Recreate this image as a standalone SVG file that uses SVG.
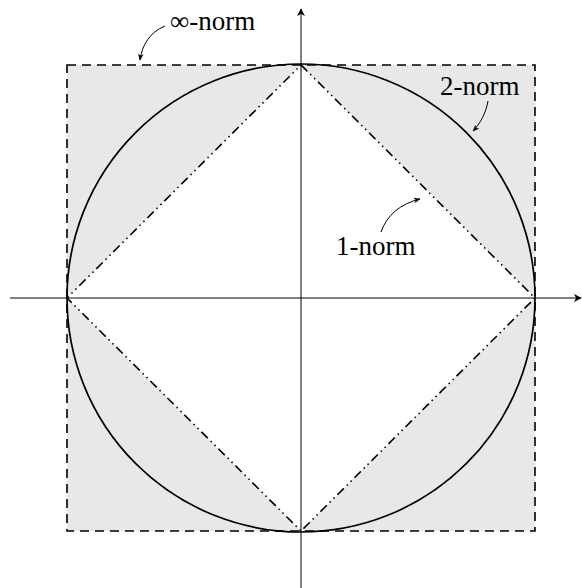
<svg xmlns="http://www.w3.org/2000/svg" width="582" height="588" viewBox="0 0 582 588">
<style>
.lbl{font-family:"Liberation Serif","Times New Roman",serif;font-size:27px;fill:#000}
.ax{stroke:#000;stroke-width:1;fill:none}
.pt{stroke:#000;stroke-width:1;fill:none}
</style>
<defs>
<marker id="ah" viewBox="0 0 10 10" refX="9" refY="5" markerWidth="8" markerHeight="8" markerUnits="userSpaceOnUse" orient="auto">
<path d="M0,0 L10,5 L0,10 L3,5 Z" fill="#000"/>
</marker>
<marker id="sa" viewBox="0 0 10 10" refX="9" refY="5" markerWidth="7" markerHeight="7" markerUnits="userSpaceOnUse" orient="auto">
<path d="M0,1 L10,5 L0,9 L3,5 Z" fill="#000"/>
</marker>
</defs>
<rect width="582" height="588" fill="#fff"/>
<g id="fill">
<path d="M67,65 H535 V531 H67 Z M301,65 L67,298 L301,531 L535,298 Z" fill="#e8e8e8" fill-rule="evenodd"/>
</g>
<g id="connectors">
<line class="ax" x1="10" y1="298" x2="581" y2="298" marker-end="url(#ah)"/>
<line class="ax" x1="301" y1="588" x2="301" y2="9" marker-end="url(#ah)"/>
<path class="pt" d="M165,26 C150,32 142,45 140,60" marker-end="url(#sa)"/>
<path class="pt" d="M488,101 C486,113 480,124 473,131" marker-end="url(#sa)"/>
<path class="pt" d="M381,232 C387,215 400,204 420,199" marker-end="url(#sa)"/>
</g>
<g id="square">
<rect x="67" y="65" width="468" height="466" fill="none" stroke="#000" stroke-width="1.6" stroke-dasharray="9,6"/>
</g>
<g id="circle">
<circle cx="301" cy="298" r="234" fill="none" stroke="#000" stroke-width="1.7"/>
</g>
<g id="diamond">
<path d="M301,65 L535,298 L301,531 L67,298 Z" fill="none" stroke="#000" stroke-width="1.6" stroke-dasharray="9,4,1.5,4,1.5,4"/>
</g>
<g id="label-inf"><text class="lbl" x="170" y="30">∞-norm</text></g>
<g id="label-2"><text class="lbl" x="440" y="95">2-norm</text></g>
<g id="label-1"><text class="lbl" x="336" y="255">1-norm</text></g>
</svg>
